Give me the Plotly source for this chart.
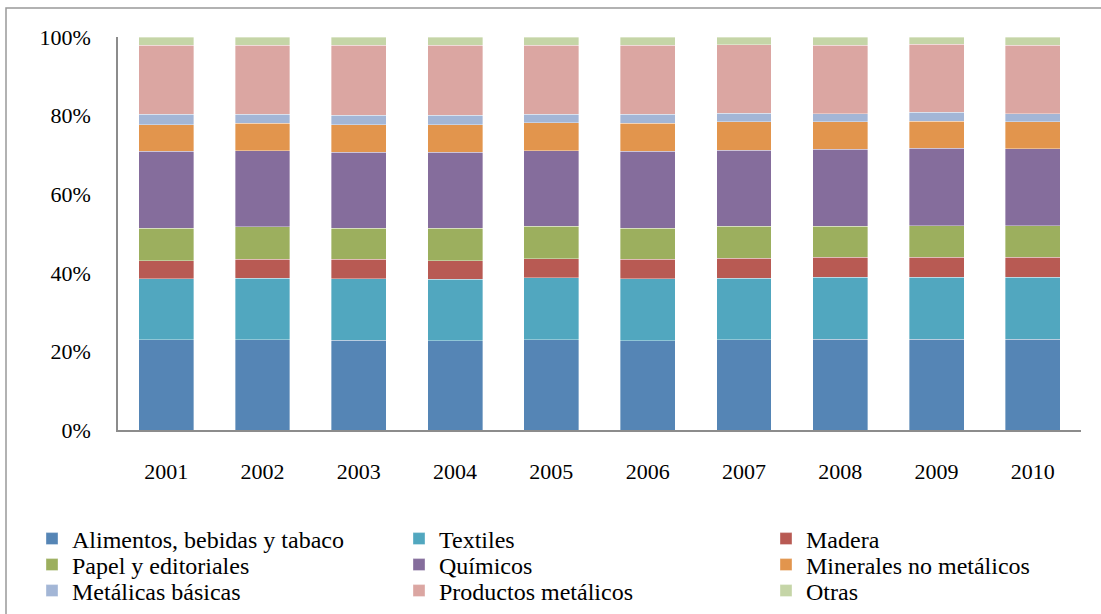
import plotly.graph_objects as go

years = ["2001", "2002", "2003", "2004", "2005", "2006", "2007", "2008", "2009", "2010"]

alimentos = [23.0, 23.0, 22.8, 22.7, 23.0, 22.7, 23.0, 23.1, 23.1, 23.1]
textiles = [15.5, 15.6, 15.7, 15.7, 15.7, 15.8, 15.6, 15.8, 15.8, 15.8]
madera = [4.6, 4.8, 4.9, 4.7, 4.9, 4.9, 5.1, 5.0, 5.1, 5.0]
papel = [8.3, 8.3, 8.0, 8.3, 8.2, 8.0, 8.2, 8.0, 8.0, 8.1]
quimicos = [19.5, 19.3, 19.3, 19.3, 19.3, 19.5, 19.3, 19.6, 19.7, 19.6]
minerales = [6.8, 7.0, 7.0, 7.0, 7.1, 7.1, 7.2, 6.9, 6.9, 6.8]
metalicas = [2.6, 2.3, 2.4, 2.4, 2.2, 2.3, 2.2, 2.1, 2.3, 2.1]
productos = [17.6, 17.6, 17.8, 17.8, 17.5, 17.6, 17.4, 17.4, 17.2, 17.4]
otras = [2.1, 2.1, 2.1, 2.1, 2.1, 2.1, 2.0, 2.1, 1.9, 2.1]

y_ticks = [0, 20, 40, 60, 80, 100]
y_tick_labels = ["0%", "20%", "40%", "60%", "80%", "100%"]

series = [
    ("Alimentos, bebidas y tabaco", alimentos, "#5585B5", "legend", 0),
    ("Textiles", textiles, "#51A7BF", "legend", 1),
    ("Madera", madera, "#B85A53", "legend", 2),
    ("Papel y editoriales", papel, "#9CAF5E", "legend2", 0),
    ("Químicos", quimicos, "#856D9C", "legend2", 1),
    ("Minerales no metálicos", minerales, "#E2954D", "legend2", 2),
    ("Metálicas básicas", metalicas, "#A3B6D6", "legend3", 0),
    ("Productos metálicos", productos, "#DBA6A2", "legend3", 1),
    ("Otras", otras, "#C5D5A7", "legend3", 2),
]

W, H = 1101, 614
L, R, T, B = 118, 20, 37, 184
pw, ph = W - L - R, H - T - B

def px_x(px):
    return (px - L) / pw

def px_y(py):
    return (H - B - py) / ph

FONT = "Liberation Serif"

fig = go.Figure()
for name, vals, color, lg, col in series:
    fig.add_trace(go.Bar(
        name=name, x=years, y=vals, legend=lg,
        legendwidth=(250 if col == 2 else 322),
        marker=dict(color=color, line=dict(color="rgba(255,255,255,0.45)", width=0.8)),
    ))

def legend_at(py):
    return dict(
        orientation="h", entrywidth=322, entrywidthmode="pixels",
        xanchor="left", yanchor="middle", x=px_x(32), y=px_y(py),
        bgcolor="rgba(0,0,0,0)", font=dict(family=FONT, size=24, color="black"),
        traceorder="normal",
    )

fig.update_layout(
    width=W, height=H,
    margin=dict(l=L, r=R, t=T, b=B, autoexpand=False),
    barmode="stack", barnorm="percent", bargap=0.43,
    plot_bgcolor="white", paper_bgcolor="white",
    font=dict(family=FONT, size=22, color="black"),
    showlegend=True,
    legend=legend_at(539),
    legend2=legend_at(565),
    legend3=legend_at(591),
    xaxis=dict(
        type="category", range=[-0.5, 9.5], showgrid=False, zeroline=False,
        showline=True, linecolor="#8c8c8c", linewidth=1.5, ticks="",
        ticklabelstandoff=21, tickfont=dict(family=FONT, size=22, color="black"),
    ),
    yaxis=dict(
        range=[0, 100], tickmode="array", tickvals=y_ticks, ticktext=y_tick_labels,
        showgrid=False, zeroline=False, showline=True, linecolor="#8c8c8c",
        linewidth=1.5, ticks="", ticklabelstandoff=21,
        tickfont=dict(family=FONT, size=22, color="black"),
    ),
    shapes=[dict(
        type="rect", xref="paper", yref="paper",
        x0=px_x(6), x1=px_x(1120), y0=px_y(8), y1=px_y(640),
        line=dict(color="#999999", width=1.5), fillcolor="rgba(0,0,0,0)", layer="below",
    )],
)

fig.write_html("out.html")
